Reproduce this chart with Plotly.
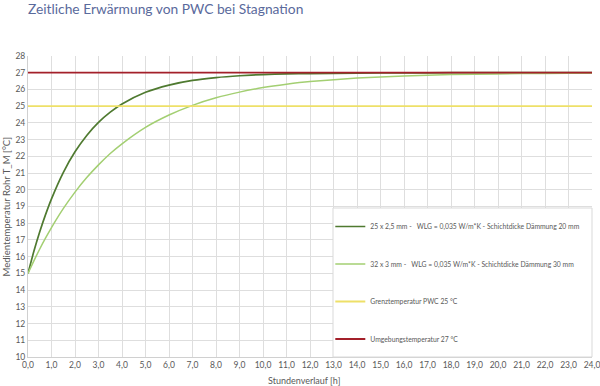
import plotly.graph_objects as go

hours = [0, 0.25, 0.5, 0.75, 1, 1.5, 2, 2.5, 3, 3.5, 4, 5, 6, 7, 8, 9, 10, 11, 12, 14, 16, 18, 20, 22, 24]
temp_25x25 = [15.0, 16.32, 17.49, 18.53, 19.46, 21.03, 22.27, 23.25, 24.03, 24.64, 25.13, 25.83, 26.26,
              26.54, 26.71, 26.82, 26.89, 26.93, 26.95, 26.98, 26.99, 27.0, 27.0, 27.0, 27.0]
temp_32x3 = [15.0, 15.75, 16.46, 17.12, 17.74, 18.87, 19.86, 20.73, 21.49, 22.17, 22.75, 23.73, 24.47,
             25.05, 25.50, 25.84, 26.11, 26.31, 26.47, 26.68, 26.81, 26.89, 26.93, 26.96, 26.98]
limit_hours = [0, 24]
limit_temp = [25, 25]
ambient_temp = [27, 27]

names = [
    "25 x 2,5 mm -   WLG = 0,035 W/m*K - Schichtdicke Dämmung 20 mm",
    "32 x 3 mm -   WLG = 0,035 W/m*K - Schichtdicke Dämmung 30 mm",
    "Grenztemperatur PWC 25 °C",
    "Umgebungstemperatur 27 °C",
]
x_ticks = [i for i in range(0, 25)]
y_ticks = [i for i in range(10, 29)]

FONT = "Lato, 'Open Sans', sans-serif"
fig = go.Figure()
fig.add_trace(go.Scatter(x=hours, y=temp_25x25, mode="lines", name=names[0], legendgroup="a",
                         line=dict(color="#4f7a30", width=1.7, shape="spline", smoothing=0.6)))
fig.add_trace(go.Scatter(x=hours, y=temp_32x3, mode="lines", name=names[1], legendgroup="b",
                         line=dict(color="#a3cf72", width=1.5, shape="spline", smoothing=0.6)))
fig.add_trace(go.Scatter(x=limit_hours, y=limit_temp, mode="lines", name=names[2], legendgroup="c",
                         line=dict(color="#eee068", width=1.8)))
fig.add_trace(go.Scatter(x=limit_hours, y=ambient_temp, mode="lines", name=names[3], legendgroup="d",
                         line=dict(color="#a3202a", width=1.8)))

fig.update_layout(
    width=600, height=386,
    margin=dict(l=28, r=8, t=56, b=29, autoexpand=False),
    paper_bgcolor="white", plot_bgcolor="white",
    font=dict(family=FONT, color="#595959", size=9),
    separators=",.",
    title=dict(text="Zeitliche Erwärmung von PWC bei Stagnation", xref="paper", x=0,
               xanchor="left", y=0.99, yanchor="top",
               font=dict(family=FONT, size=13.8, color="#5a6a9c")),
    showlegend=True,
    legend=dict(x=0.536, xanchor="left", y=0.01, yanchor="bottom", bgcolor="rgba(0,0,0,0)",
                borderwidth=0, tracegroupgap=18.5,
                font=dict(size=6.8, color="#595959"), itemwidth=30),
    shapes=[dict(type="rect", xref="paper", yref="paper", x0=0.5408, x1=1.0, y0=0.0, y1=0.495,
                 fillcolor="white", line=dict(color="#d9d9d9", width=1), layer="above")],
    xaxis=dict(range=[0, 24], tickvals=x_ticks, tickformat=".1f", showgrid=True,
               gridcolor="#dedede", gridwidth=1, zeroline=False, showline=True,
               linecolor="#d0d0d0", ticks="", tickfont=dict(size=8.5),
               ticklabeloverflow="allow"),
    yaxis=dict(range=[10, 28], tickvals=y_ticks, showgrid=True, gridcolor="#dedede",
               gridwidth=1, zeroline=False, showline=True, linecolor="#d0d0d0", ticks="",
               tickfont=dict(size=8.5)),
    annotations=[
        dict(text="Stundenverlauf [h]", xref="paper", yref="paper", x=0.49, y=0,
             yshift=-23, xanchor="center", yanchor="middle", showarrow=False,
             font=dict(size=9, color="#595959")),
        dict(text="Medientemperatur Rohr T_M [°C]", xref="paper", yref="paper", x=0, xshift=-22,
             y=0.5, textangle=-90, xanchor="center", yanchor="middle", showarrow=False,
             font=dict(size=9.5, color="#595959")),
    ],
)
fig.write_html("out.html", config={"displayModeBar": False},
               post_script="document.body.style.margin='0';")
